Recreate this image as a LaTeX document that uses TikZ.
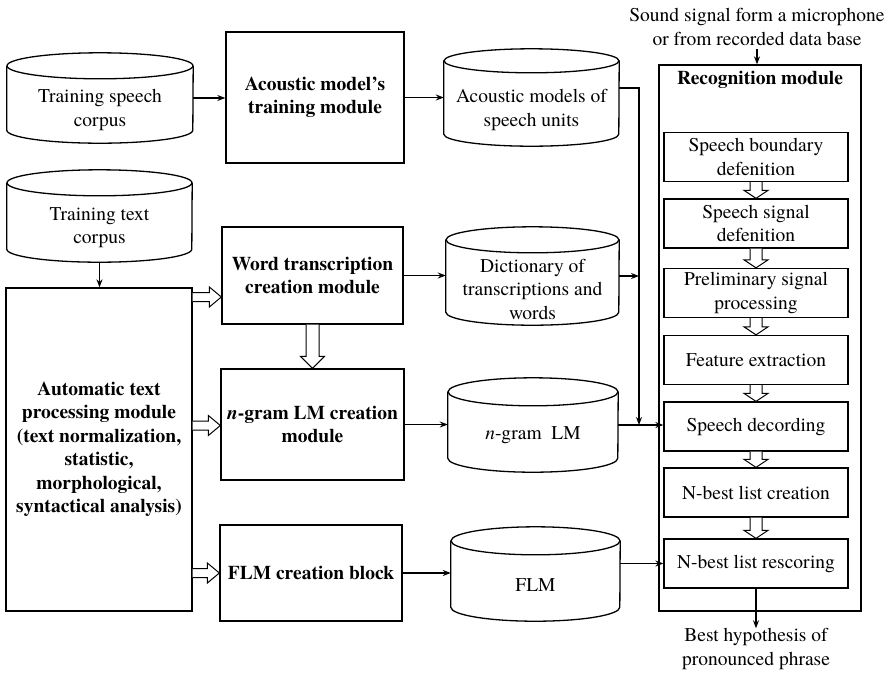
\documentclass[tikz,border=0pt]{standalone}
\usepackage{fontspec}
\setmainfont{texgyretermes}[
  Extension=.otf,
  UprightFont=*-regular,
  BoldFont=*-bold,
  ItalicFont=*-italic,
  BoldItalicFont=*-bolditalic]
\usetikzlibrary{arrows.meta,calc}

\newcommand\mainsize{\fontsize{19.5}{23.5}\selectfont}

\tikzset{
  blk/.style={draw, line width=1.3pt, inner sep=0pt, align=center, font=\mainsize\bfseries},
  stage/.style={draw, line width=1.3pt, inner sep=0pt, minimum width=184pt, minimum height=49pt, align=center},
  lbl/.style={inner sep=0pt, align=center},
  link/.style={line width=1.3pt, -{Stealth[length=8pt,width=6pt]}},
  hollow/.style={draw, line width=1pt, fill=white},
}

% database drum: name, centre x, top-centre y, bottom-centre y, x radius, y radius
\newcommand\drum[6]{%
  \node[inner sep=0pt, minimum width={2*#5*1pt}, minimum height={(#4-#3)*1pt}] (#1) at (#2,{(#3+#4)/2}) {};
  \draw[line width=1.3pt] (#1.north west) -- (#1.south west)
     arc[start angle=180, end angle=360, x radius=#5pt, y radius=#6pt] -- (#1.north east);
  \draw[line width=1.3pt] (#1.north) ellipse[x radius=#5pt, y radius=#6pt];
}

% wide downward arrow: from node, to node, shaft half width, head half width, head length
\newcommand\fatdown[5]{%
  \draw[hollow] ($(#1.south)+(-#3,0)$) -- ($(#2.north)+(-#3,-#5)$) -- ($(#2.north)+(-#4,-#5)$)
     -- (#2.north) -- ($(#2.north)+(#4,-#5)$) -- ($(#2.north)+(#3,-#5)$) -- ($(#1.south)+(#3,0)$);
}

% wide rightward arrow: from node, to node, height y
\newcommand\fatright[3]{%
  \coordinate (fa) at (#2.west |- 0,#3);
  \coordinate (fb) at (#1.east |- 0,#3);
  \draw[hollow] ($(fb)+(0,-4.5)$) -- ($(fa)+(-12,-4.5)$) -- ($(fa)+(-12,-10)$) -- (fa)
     -- ($(fa)+(-12,10)$) -- ($(fa)+(-12,4.5)$) -- ($(fb)+(0,4.5)$);
}

\begin{document}
\begin{tikzpicture}[x=1pt, y=-1pt, font=\mainsize]
\useasboundingbox (0,0) rectangle (890,673);

% ---- databases ----
\drum{spc}{100}{66}{130}{93}{13}
\node[lbl] at (100,110) {Training speech\\corpus};
\drum{txc}{99.5}{183}{249}{92.5}{13}
\node[lbl] at (99.5,227.5) {Training text\\corpus};
\drum{acm}{531.5}{61}{134}{87.5}{12}
\node[lbl] at (531.5,110) {Acoustic models of\\speech units};
\drum{dict}{532.5}{240}{312}{86.5}{13}
\node[lbl] at (532.5,289) {Dictionary of\\transcriptions and\\words};
\drum{lm}{533}{392}{458}{85}{14}
\node[lbl] at (533,435) {\textit{n}-gram\ \ LM};
\drum{flm}{535.5}{541}{607}{84.5}{14}
\node[lbl] at (535.5,585) {FLM};

% ---- processing modules ----
\node[blk, minimum width=178pt, minimum height=131pt] (amt) at (315,97.5) {Acoustic model’s\\training module};
\node[blk, minimum width=181pt, minimum height=97pt] (wtc) at (312.5,275.5) {Word transcription\\creation module};
\node[blk, minimum width=183pt, minimum height=111pt] (ngc) at (312.5,424.5) {\textit{n}-gram LM creation\\module};
\node[blk, minimum width=182pt, minimum height=96pt] (flc) at (311,573) {FLM creation block};
\node[blk, minimum width=186pt, minimum height=323pt] (atp) at (99,449.5)
  {Automatic text\\processing module\\(text normalization,\\statistic,\\morphological,\\syntactical analysis)};

% ---- recognition module ----
\node[draw, line width=1.3pt, minimum width=202pt, minimum height=546pt, inner sep=0pt] (rec) at (760,338) {};
\node[lbl, font=\mainsize\bfseries] (rect) at (760,80) {Recognition module};
\node[stage] (s1) at (756,157)   {Speech boundary\\defenition};
\node[stage] (s2) at (756,223.5) {Speech signal\\defenition};
\node[stage] (s3) at (756,293)   {Preliminary signal\\processing};
\node[stage] (s4) at (756,360)   {Feature extraction};
\node[stage] (s5) at (756,426.5) {Speech decording};
\node[stage] (s6) at (756,492.5) {N-best list creation};
\node[stage] (s7) at (756,563.5) {N-best list rescoring};

\foreach \a/\b in {s1/s2, s2/s3, s3/s4, s4/s5, s5/s6, s6/s7}
  \fatdown{\a}{\b}{6}{12}{8};

\node[lbl, inner sep=3pt] (src) at (757,27) {Sound signal form a microphone\\or from recorded data base};
\node[lbl] (out) at (756,649) {Best hypothesis of\\pronounced phrase};

% ---- wide arrows ----
\fatright{atp}{wtc}{297}
\fatright{atp}{ngc}{425.5}
\fatright{atp}{flc}{573}
\fatdown{wtc}{ngc}{6.5}{12}{12}

% ---- connectors ----
\coordinate (bus) at (639,425);
\draw[link] (spc.east) -- (spc.east -| amt.west);
\draw[link] (amt.east) -- (amt.east -| acm.west);
\draw[link] ($(txc.south)+(0,13)$) -- (atp.north -| txc.south);
\draw[link] (wtc.east) -- (wtc.east -| dict.west);
\draw[link] (ngc.east) -- (ngc.east -| lm.west);
\draw[link] (flc.east) -- (flc.east -| flm.west);
\draw[link] ($(acm.east)+(0,-9.5)$) -| (bus);
\draw[link] (dict.east) -- (dict.east -| bus);
\draw[link] (lm.east) -- (lm.east -| s5.west);
\draw[link] (s7.west -| flm.east) -- (s7.west);
\draw[link] (src.south) -- (src.south |- rec.north);
\draw[link] (s7.south) -- (out.north);
\end{tikzpicture}
\end{document}
